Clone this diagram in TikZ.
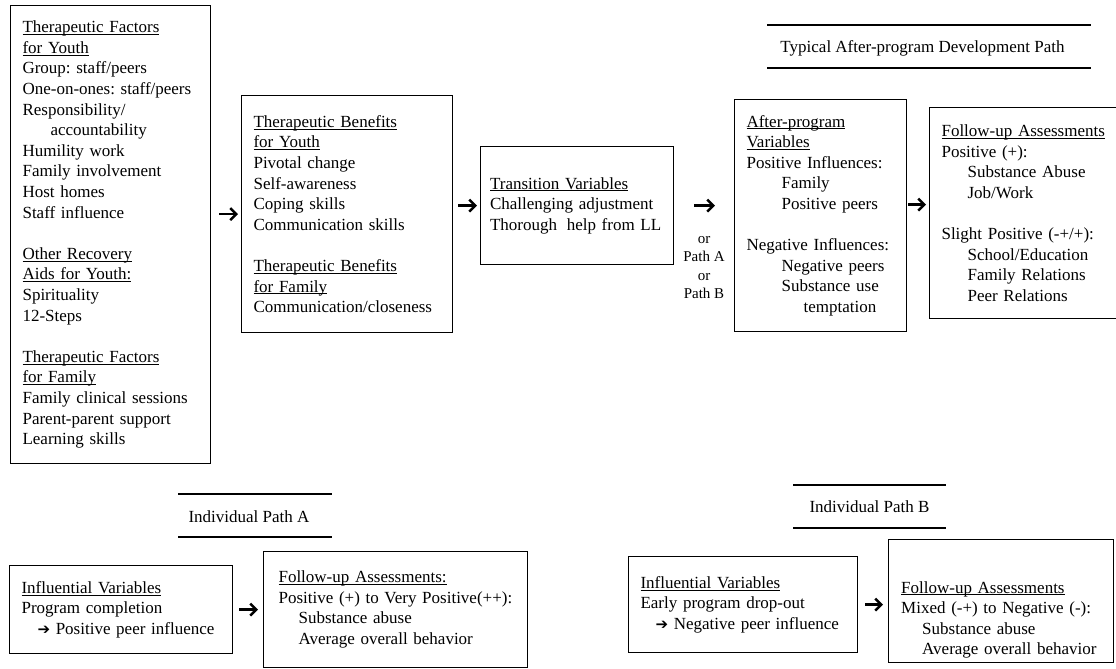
\documentclass[tikz,border=0pt]{standalone}
\usepackage{fontspec}
\setmainfont{Liberation Serif}
\newfontfamily\arrowfont{DejaVu Sans}
\usepackage{tikz}
\usetikzlibrary{arrows.meta,positioning}
\frenchspacing
\newcommand{\inarr}{{\arrowfont\fontsize{15}{15}\selectfont ➔}}
\newsavebox{\hdbox}
\newcommand{\hdul}[1]{\leavevmode\sbox{\hdbox}{#1}\rlap{\rule[-2.3pt]{\wd\hdbox}{0.9pt}}#1}
\tikzset{
  stagebox/.style={draw, line width=1.1pt, align=left, inner xsep=12pt,
    inner ysep=6pt, text width=#1, font=\fontsize{17}{20.6}\selectfont},
  stagebox/.default={170pt},
  stagetext/.style={align=left, inner sep=0pt, text width=#1,
    font=\fontsize{17}{20.6}\selectfont},
  fatarr/.style={-{Straight Barb[length=6pt,width=12pt]}, line width=2.5pt},
  headrule/.style={line width=1.3pt},
  headtext/.style={font=\fontsize{17}{20.6}\selectfont},
}

\begin{document}
\begin{tikzpicture}[x=1pt, y=-1pt]
  \useasboundingbox (0,0) rectangle (1116,669);

  % program stages
  \node[stagebox=176pt, minimum height=458pt, anchor=north west] (facY) at (10,5)
    {\hdul{Therapeutic Factors}\\
     \hdul{for Youth}\\
     Group: staff/peers\\
     One-on-ones: staff/peers\\
     Responsibility/\\
     \hspace*{28pt}accountability\\
     Humility work\\
     Family involvement\\
     Host homes\\
     Staff influence\\[20.6pt]
     \hdul{Other Recovery}\\
     \hdul{Aids for Youth:}\\
     Spirituality\\
     12-Steps\\[20.6pt]
     \hdul{Therapeutic Factors}\\
     \hdul{for Family}\\
     Family clinical sessions\\
     Parent-parent support\\
     Learning skills};
  \node[stagebox=187pt, minimum height=237pt, anchor=north west] (benY) at (241,95)
    {\hdul{Therapeutic Benefits}\\
     \hdul{for Youth}\\
     Pivotal change\\
     Self-awareness\\
     Coping skills\\
     Communication skills\\[20.6pt]
     \hdul{Therapeutic Benefits}\\
     \hdul{for Family}\\
     Communication/closeness};
  \node[stagebox=174pt, inner xsep=9.5pt, minimum height=118pt, anchor=north west] (trans) at (480,146)
    {\hdul{Transition Variables}\\
     Challenging adjustment\\
     Thorough\hspace{4pt} help from LL};
  \node[stagebox=148pt, minimum height=232pt, anchor=north west] (after) at (734,99)
    {\hdul{After-program}\\
     \hdul{Variables}\\
     Positive Influences:\\
     \hspace*{35pt}Family\\
     \hspace*{35pt}Positive peers\\[20.6pt]
     Negative Influences:\\
     \hspace*{35pt}Negative peers\\
     \hspace*{35pt}Substance use\\
     \hspace*{57pt}temptation};
  \node[stagebox=180pt, minimum height=211pt, anchor=north west] (fupT) at (929,107)
    {\hdul{Follow-up Assessments}\\
     Positive (+):\\
     \hspace*{26pt}Substance Abuse\\
     \hspace*{26pt}Job/Work\\[20.6pt]
     Slight Positive (-+/+):\\
     \hspace*{26pt}School/Education\\
     \hspace*{26pt}Family Relations\\
     \hspace*{26pt}Peer Relations};

  \node[font=\fontsize{15}{18.5}\selectfont, align=center] (orPath) at (704,267.5)
    {or\\Path A\\or\\Path B};

  % headings
  \node[headtext] (hdTyp) at (922.5,48) {Typical After-program Development Path};
  \node[headtext] (hdA) at (249,517) {Individual Path A};
  \node[headtext] (hdB) at (869.5,507) {Individual Path B};
  \draw[headrule] (767,25) -- (1091,25);
  \draw[headrule] (767,68) -- (1091,68);
  \draw[headrule] (178,494) -- (332,494);
  \draw[headrule] (178,537) -- (332,537);
  \draw[headrule] (793,485) -- (946,485);
  \draw[headrule] (793,528) -- (946,528);

  % individual paths
  \node[stagebox=199pt, minimum height=88pt, anchor=north west] (infA) at (9,565)
    {\hdul{Influential Variables}\\
     Program completion\\
     \hspace*{16pt}\inarr\ Positive peer influence};
  \node[stagebox=234pt, inner xsep=15pt, minimum height=116pt, anchor=north west] (fupA) at (263,551)
    {\hdul{Follow-up Assessments:}\\
     Positive (+) to Very Positive(++):\\
     \hspace*{20pt}Substance abuse\\
     \hspace*{20pt}Average overall behavior};
  \node[stagebox=205pt, minimum height=96pt, anchor=north west] (infB) at (628,556)
    {\hdul{Influential Variables}\\
     Early program drop-out\\
     \hspace*{15pt}\inarr\ Negative peer influence};
  \node[draw, line width=1.1pt, minimum width=225pt, minimum height=123pt,
    anchor=north west] (fupB) at (888,539) {};
  \node[stagetext=200pt, anchor=north west] (fupBtxt) at ([xshift=13pt, yshift=-42pt]fupB.north west)
    {\hdul{Follow-up Assessments}\\
     Mixed (-+) to Negative (-):\\
     \hspace*{21pt}Substance abuse\\
     \hspace*{21pt}Average overall behavior};

  % arrows
  \draw[fatarr, shorten <=8pt, shorten >=3pt] (facY.east |- benY.west) -- (benY.west);
  \draw[fatarr, shorten <=5pt, shorten >=3pt] (benY.east |- trans.west) -- (trans.west);
  \draw[fatarr, shorten <=20pt, shorten >=19pt] (trans.east) -- (trans.east -| after.west);
  \draw[fatarr, shorten <=1pt, shorten >=3pt] ([yshift=11pt]after.east) -- ([yshift=11pt]after.east -| fupT.west);
  \draw[fatarr, shorten <=6pt, shorten >=5pt] (infA.east) -- (infA.east -| fupA.west);
  \draw[fatarr, shorten <=7pt, shorten >=5pt] (infB.east) -- (infB.east -| fupB.west);
\end{tikzpicture}
\end{document}
